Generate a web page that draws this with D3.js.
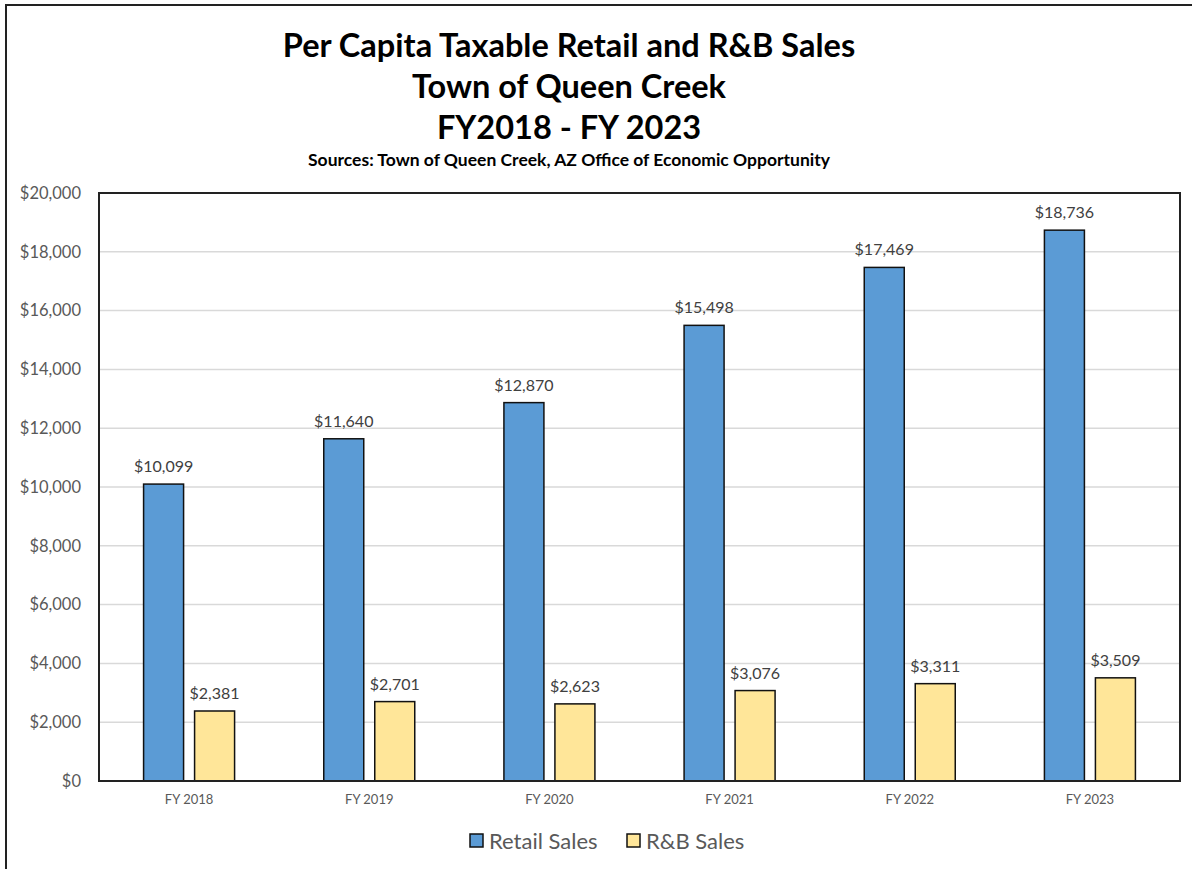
<!DOCTYPE html>
<html lang="en">
<head>
<meta charset="utf-8">
<title>Per Capita Taxable Retail and R&amp;B Sales</title>
<script src="https://d3js.org/d3.v7.min.js"></script>
<style>
  body { margin: 0; background: #fff; }
  text { font-family: Lato, "Open Sans", sans-serif; }
</style>
</head>
<body>
<svg id="chart" width="1192" height="869"></svg>
<script>
// data
const years = ["FY 2018", "FY 2019", "FY 2020", "FY 2021", "FY 2022", "FY 2023"];
const retailSales = [10099, 11640, 12870, 15498, 17469, 18736];
const rbSales = [2381, 2701, 2623, 3076, 3311, 3509];
const yTicks = [0, 2000, 4000, 6000, 8000, 10000, 12000, 14000, 16000, 18000, 20000];
const seriesNames = ["Retail Sales", "R&B Sales"];
const colors = ["#5b9bd5", "#ffe699"];

const svg = d3.select("#chart");
const W = 1192, H = 869;
const plot = {left: 99, top: 193, right: 1180, bottom: 781};

// outer frame
svg.append("rect").attr("x", 6).attr("y", 5).attr("width", W).attr("height", H)
   .attr("fill", "none").attr("stroke", "#222").attr("stroke-width", 2);

// titles
const titles = ["Per Capita Taxable Retail and R&B Sales", "Town of Queen Creek", "FY2018 - FY 2023"];
titles.forEach(function(t, i) {
  svg.append("text").attr("x", 569).attr("y", 57 + i * 41)
     .attr("text-anchor", "middle").attr("font-size", 32.5).attr("font-weight", 700)
     .attr("fill", "#000").text(t);
});
svg.append("text").attr("x", 569).attr("y", 166)
   .attr("text-anchor", "middle").attr("font-size", 17.5).attr("font-weight", 700)
   .attr("fill", "#000").text("Sources: Town of Queen Creek, AZ Office of Economic Opportunity");

const x = d3.scaleBand().domain(years).range([plot.left, plot.right]).paddingInner(0).paddingOuter(0);
const y = d3.scaleLinear().domain([0, 20000]).range([plot.bottom, plot.top]);

// gridlines
svg.append("g").selectAll("line").data(yTicks.slice(1)).join("line")
   .attr("x1", plot.left).attr("x2", plot.right)
   .attr("y1", d => y(d)).attr("y2", d => y(d))
   .attr("stroke", "#d9d9d9").attr("stroke-width", 1.5);

// y axis labels
const yAxis = d3.axisLeft(y).tickValues(yTicks).tickSize(0).tickPadding(18)
  .tickFormat(d => "$" + d3.format(",")(d));
const gy = svg.append("g").attr("transform", `translate(${plot.left},0)`).call(yAxis);
gy.select(".domain").remove();
gy.selectAll("text").attr("font-size", 16.5).attr("fill", "#595959")
  .style("font-family", "Lato, 'Open Sans', sans-serif");

// x axis labels
const xAxis = d3.axisBottom(x).tickSize(0).tickPadding(14);
const gx = svg.append("g").attr("transform", `translate(0,${plot.bottom})`).call(xAxis);
gx.select(".domain").remove();
gx.selectAll("text").attr("font-size", 13).attr("fill", "#595959")
  .style("font-family", "Lato, 'Open Sans', sans-serif");

// bars
const barW = 40, gap = 11;
const series = [retailSales, rbSales];
series.forEach(function(vals, s) {
  const off = s === 0 ? -gap / 2 - barW : gap / 2;
  const g = svg.append("g");
  g.selectAll("rect").data(vals).join("rect")
    .attr("x", (d, i) => x(years[i]) + x.bandwidth() / 2 + off)
    .attr("y", d => y(d))
    .attr("width", barW)
    .attr("height", d => y(0) - y(d))
    .attr("fill", colors[s]).attr("stroke", "#111").attr("stroke-width", 1.5);
  g.selectAll("text").data(vals).join("text")
    .attr("x", (d, i) => x(years[i]) + x.bandwidth() / 2 + off + barW / 2)
    .attr("y", d => y(d) - 12)
    .attr("text-anchor", "middle").attr("font-size", 16).attr("fill", "#404040")
    .text(d => "$" + d3.format(",")(d));
});

// plot frame
svg.append("rect").attr("x", plot.left).attr("y", plot.top)
   .attr("width", plot.right - plot.left).attr("height", plot.bottom - plot.top)
   .attr("fill", "none").attr("stroke", "#222").attr("stroke-width", 2);

// legend
const legend = svg.append("g");
const legX = [470, 627];
seriesNames.forEach(function(n, i) {
  legend.append("rect").attr("x", legX[i]).attr("y", 834).attr("width", 13).attr("height", 13)
    .attr("fill", colors[i]).attr("stroke", "#111").attr("stroke-width", 1.5);
  legend.append("text").attr("x", legX[i] + 19).attr("y", 849)
    .attr("font-size", 22).attr("fill", "#595959").text(n);
});
</script>
</body>
</html>
